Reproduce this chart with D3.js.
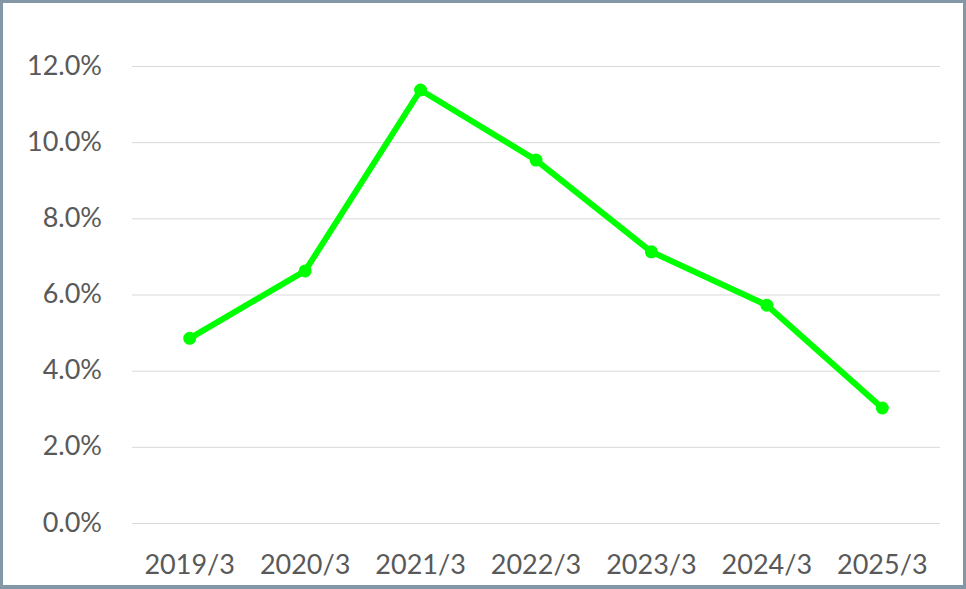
<!DOCTYPE html>
<html><head><meta charset="utf-8">
<script src="https://cdn.jsdelivr.net/npm/d3@7"></script>
<style>html,body{margin:0;padding:0;background:#fff;}svg{display:block;}</style>
</head><body>
<script>
const categories = ["2019/3","2020/3","2021/3","2022/3","2023/3","2024/3","2025/3"];
const values = [4.85, 6.62, 11.37, 9.53, 7.12, 5.72, 3.02];
const yTicks = [0, 2, 4, 6, 8, 10, 12];

const W = 966, H = 589;
const svg = d3.select("body").append("svg").attr("width", W).attr("height", H);
svg.append("rect").attr("x",1.5).attr("y",1.5).attr("width",W-3).attr("height",H-3.5)
  .attr("fill","#fff").attr("stroke","#8497a6").attr("stroke-width",3);
svg.append("rect").attr("x",0).attr("y",H-4).attr("width",W).attr("height",4).attr("fill","#8497a6");

const x = d3.scaleBand().domain(categories).range([132, 940]);
const y = d3.scaleLinear().domain([0, 12]).range([523, 66]);

const font = "Lato, 'Open Sans', sans-serif";
const gy = svg.append("g").attr("transform","translate(132,0)")
  .call(d3.axisLeft(y).tickValues(yTicks).tickSize(-808).tickPadding(30).tickFormat(d => d.toFixed(1) + "%"));
gy.select(".domain").remove();
gy.selectAll("line").attr("stroke","#d9d9d9").attr("stroke-width",1);
gy.selectAll("text").attr("fill","#595959").style("font-family",font).style("font-size","27px").attr("dy","0.3em");

const gx = svg.append("g").attr("transform","translate(0,523)")
  .call(d3.axisBottom(x).tickSize(0).tickPadding(30));
gx.select(".domain").remove();
gx.selectAll("text").attr("fill","#595959").style("font-family",font).style("font-size","27px").attr("dy","0.35em").attr("y",42);

const pts = categories.map((c,i)=>[x(c)+x.bandwidth()/2, y(values[i])]);
svg.append("path").attr("d", d3.line()(pts)).attr("fill","none").attr("stroke","#00ff00")
  .attr("stroke-width",6).attr("stroke-linejoin","round").attr("stroke-linecap","round");
svg.selectAll("circle.pt").data(pts).enter().append("circle").attr("class","pt")
  .attr("cx",d=>d[0]).attr("cy",d=>d[1]).attr("r",6.5).attr("fill","#00ff00");
</script>
</body></html>
